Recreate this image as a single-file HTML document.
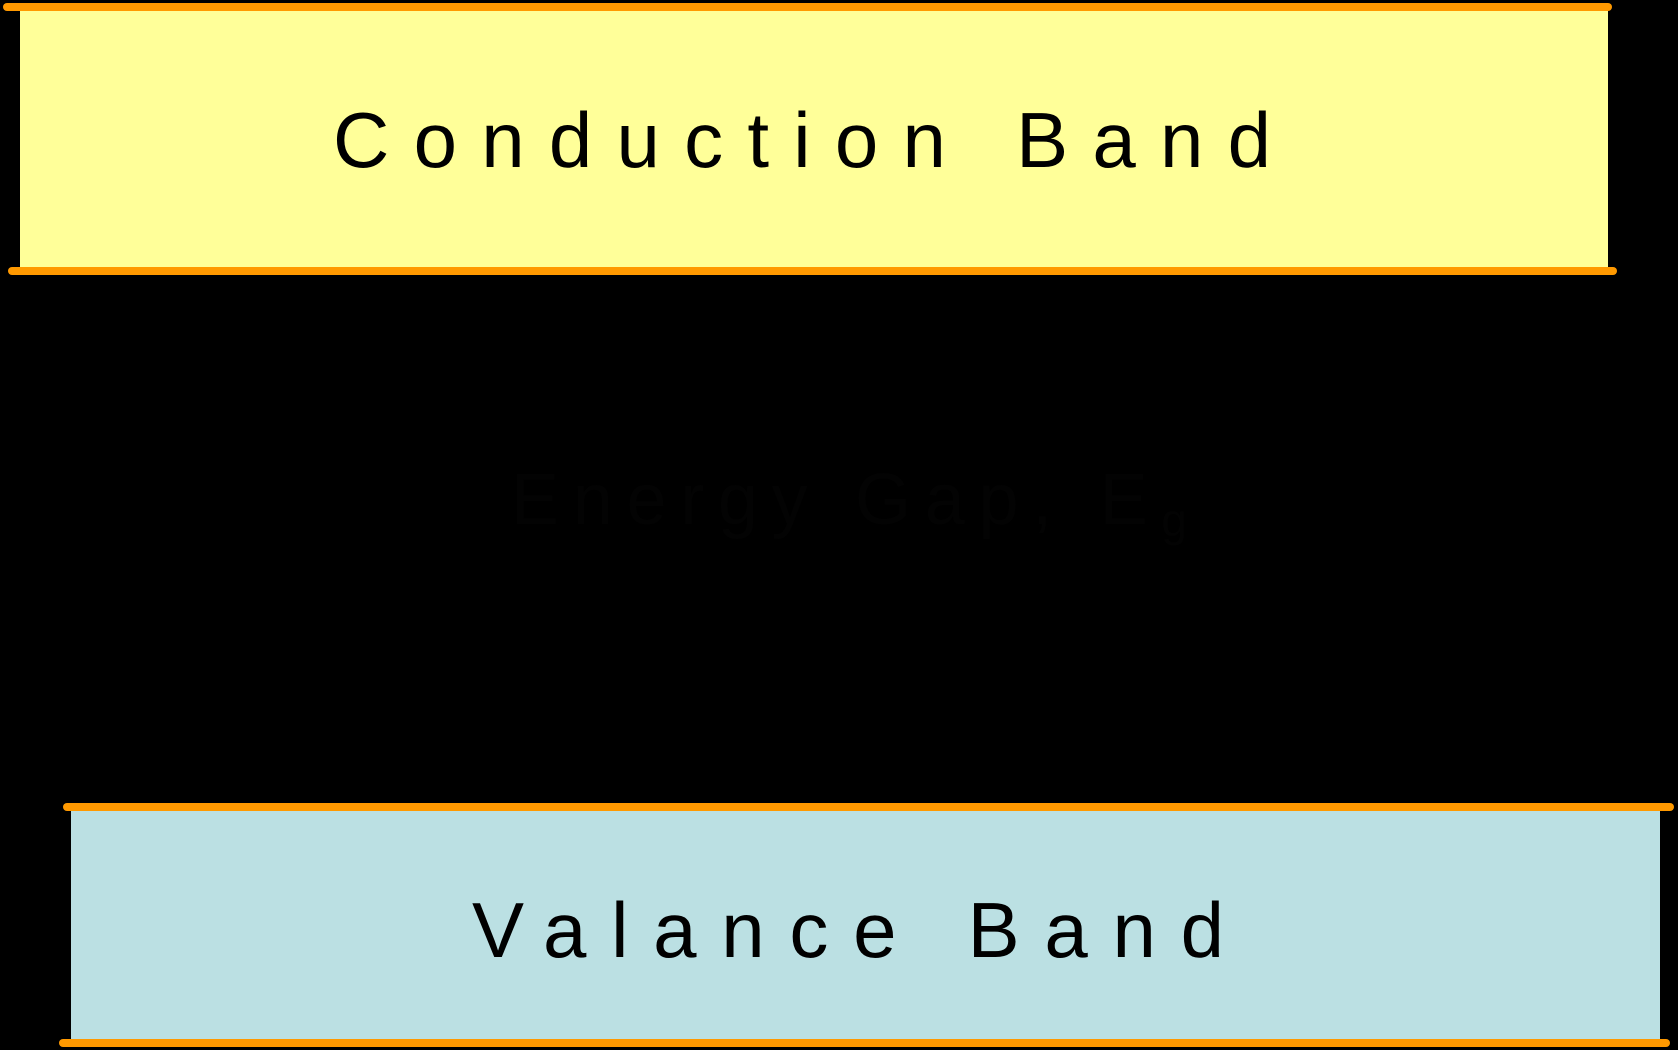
<!DOCTYPE html>
<html><head><meta charset="utf-8"><style>
html,body{margin:0;padding:0;background:#000;}
svg{display:block;font-family:"Liberation Sans",Arial,sans-serif;}
</style></head><body>
<svg width="1678" height="1050" viewBox="0 0 1678 1050">
<rect x="0" y="0" width="1678" height="1050" fill="#000"/>
<rect x="20" y="6" width="1588" height="265" fill="#ffff99"/>
<line x1="7" y1="7" x2="1608" y2="7" stroke="#ff9900" stroke-width="8" stroke-linecap="round"/>
<line x1="12" y1="271" x2="1613" y2="271" stroke="#ff9900" stroke-width="8" stroke-linecap="round"/>
<text x="333" y="167" font-size="78" fill="#000" textLength="938" lengthAdjust="spacing">Conduction Band</text>
<text x="511" y="524" font-size="72" fill="#030303" textLength="676" lengthAdjust="spacing">Energy Gap, E<tspan font-size="46" dy="12">g</tspan></text>
<rect x="71" y="807" width="1589" height="236" fill="#bbe0e3"/>
<line x1="67" y1="807" x2="1670" y2="807" stroke="#ff9900" stroke-width="8" stroke-linecap="round"/>
<line x1="63" y1="1043" x2="1666" y2="1043" stroke="#ff9900" stroke-width="8" stroke-linecap="round"/>
<text x="472" y="957" font-size="78" fill="#000" textLength="752" lengthAdjust="spacing">Valance Band</text>
</svg>
</body></html>
